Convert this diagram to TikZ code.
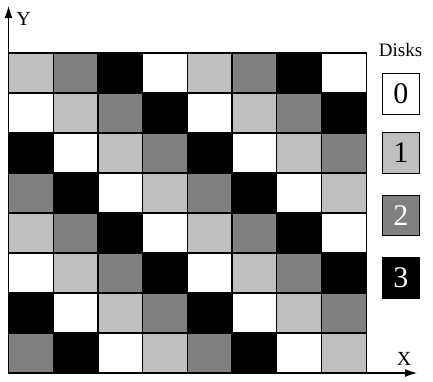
\documentclass[tikz,border=0pt]{standalone}
\usepackage{fontspec}
\setmainfont{Liberation Serif}
\usetikzlibrary{arrows.meta}
\definecolor{lg}{gray}{0.75}
\definecolor{dg}{gray}{0.5}
\begin{document}
\begin{tikzpicture}[x=1pt,y=-1pt,
  cellbox/.style={draw=black, line width=1.2pt},
  axis/.style={draw=black, line width=1.1pt, -{Latex[length=12pt,width=8pt]}},
  disk/.style={draw=black, line width=0.9pt, minimum width=37pt, minimum height=40.5pt,
    inner sep=0pt, anchor=north west, font=\fontsize{30}{30}\selectfont},
  lab/.style={inner sep=0pt, font=\fontsize{20}{20}\selectfont}]
\useasboundingbox (0,0) rectangle (433,381);
\fill[white] (0,0) rectangle (433,381);
\foreach \c in {0,...,7} {
  \foreach \r in {0,...,7} {
    \pgfmathtruncatemacro\d{mod(\c-\r+9,4)}
    \ifcase\d \def\fc{white}\or \def\fc{lg}\or \def\fc{dg}\or \def\fc{black}\fi
    \filldraw[cellbox, fill=\fc] (8.5+\c*44.7, 53+\r*40) rectangle ++(44.7,40);
  }
}
\coordinate (O) at (8.5,373);
\coordinate (Ytip) at (8.5,6);
\coordinate (Xtip) at (417,373);
\draw[axis] (O) -- (Ytip);
\draw[axis] (O) -- (Xtip);
\node[lab] (ylab) at (23.5,19) {Y};
\node[lab] (xlab) at (404,358.5) {X};
\node[lab, font=\fontsize{19}{19}\selectfont] (disks) at (400.5,50) {Disks};
\node[disk, fill=white] (d0) at (382,73) {0};
\node[disk, fill=lg] (d1) at (382,132) {1};
\node[disk, fill=dg, text=white] (d2) at (382,194.5) {2};
\node[disk, fill=black, text=white] (d3) at (382,257) {3};
\end{tikzpicture}
\end{document}
